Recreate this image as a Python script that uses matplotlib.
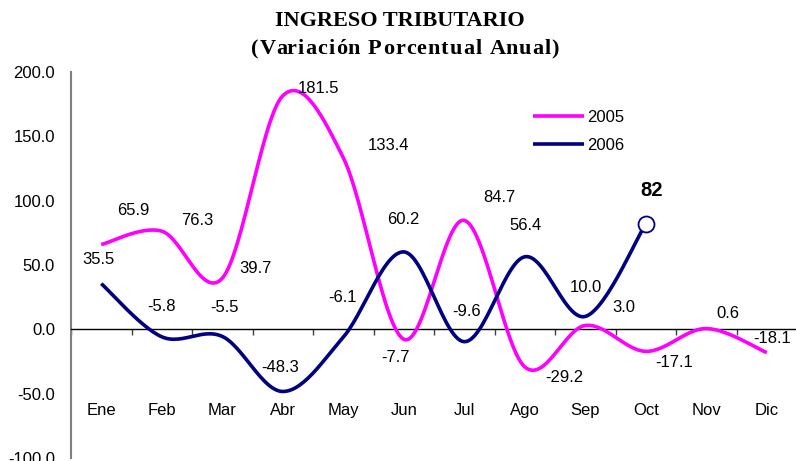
import numpy as np
import matplotlib
matplotlib.use("Agg")
import matplotlib.pyplot as plt
from matplotlib.font_manager import FontProperties

months = ["Ene", "Feb", "Mar", "Abr", "May", "Jun", "Jul", "Ago", "Sep", "Oct", "Nov", "Dic"]
s2005 = [65.9, 76.3, 39.7, 181.5, 133.4, -7.7, 84.7, -29.2, 3.0, -17.1, 0.6, -18.1]
s2006 = [35.5, -5.8, -5.5, -48.3, -6.1, 60.2, -9.6, 56.4, 10.0, 82.0]
lab2005 = ["65.9", "76.3", "39.7", "181.5", "133.4", "-7.7", "84.7", "-29.2", "3.0", "-17.1", "0.6", "-18.1"]
lab2006 = ["35.5", "-5.8", "-5.5", "-48.3", "-6.1", "60.2", "-9.6", "56.4", "10.0"]
last_label = "82"
yticks = [-100, -50, 0, 50, 100, 150, 200]
title1 = "INGRESO TRIBUTARIO"
title2 = "(Variación Porcentual Anual)"

# label offsets in pixels (style)
off2005 = [(32, 34), (35, 11), (33, 10), (36, 7), (45, 12), (-8, -18), (35, 23),
           (40, -11), (39, 18), (28, -11), (22, 15), (5, 14)]
off2006 = [(-3, 24), (0, 30), (2, 29), (-3, 24), (-1, 40), (0, 32), (2, 30), (1, 31), (1, 29)]

MAG = "#FF00FF"
NAVY = "#000080"
SANS = "Liberation Sans"
SERIF = "Liberation Serif"


def smooth(y, n=30):
    y = np.asarray(y, float)
    x = np.arange(len(y), dtype=float)
    px, py = [], []
    for i in range(len(y) - 1):
        i0 = max(i - 1, 0)
        i3 = min(i + 2, len(y) - 1)
        p0 = np.array([x[i0], y[i0]]); p1 = np.array([x[i], y[i]])
        p2 = np.array([x[i + 1], y[i + 1]]); p3 = np.array([x[i3], y[i3]])
        c1 = p1 + (p2 - p0) / 6.0
        c2 = p2 - (p3 - p1) / 6.0
        t = np.linspace(0, 1, n)[:, None]
        b = (1 - t) ** 3 * p1 + 3 * (1 - t) ** 2 * t * c1 + 3 * (1 - t) * t ** 2 * c2 + t ** 3 * p2
        px.extend(b[:, 0]); py.extend(b[:, 1])
    return np.array(px), np.array(py)


W, H = 796, 461
fig = plt.figure(figsize=(W / 100, H / 100), dpi=100)
ax = fig.add_axes([71 / W, 3 / H, 726 / W, 386 / H])
ax.set_xlim(-0.5, 11.5)
ax.set_ylim(-100, 200)

x5, y5 = smooth(s2005)
x6, y6 = smooth(s2006)
ax.plot(x5, y5, color=MAG, lw=2.6, label="2005", solid_capstyle="butt", zorder=3)
ax.plot(x6, y6, color=NAVY, lw=2.6, label="2006", solid_capstyle="butt", zorder=3)
ax.plot([len(s2006) - 1], [s2006[-1]], marker="o", ms=11.5, mfc="white", mec=NAVY,
        mew=1.3, ls="none", zorder=4)

for i, (v, t) in enumerate(zip(s2005, lab2005)):
    ax.annotate(t, (i, v), xytext=off2005[i], textcoords="offset pixels",
                ha="center", va="center", fontsize=12, family=SANS, color="black")
for i, t in enumerate(lab2006):
    ax.annotate(t, (i, s2006[i]), xytext=off2006[i], textcoords="offset pixels",
                ha="center", va="center", fontsize=12, family=SANS, color="black")
ax.annotate(last_label, (len(s2006) - 1, s2006[-1]), xytext=(6, 33), textcoords="offset pixels",
            ha="center", va="center", fontsize=14.5, fontweight="bold", family=SANS)

# axes styling
for s in ["top", "right"]:
    ax.spines[s].set_visible(False)
ax.spines["left"].set_color("#808080")
ax.spines["left"].set_linewidth(1.5)
ax.spines["bottom"].set_position(("data", 0))
ax.spines["bottom"].set_color("black")
ax.spines["bottom"].set_linewidth(1.0)

ax.set_yticks(yticks)
ax.set_yticklabels([f"{v:.1f}" for v in yticks], family=SANS, fontsize=12)
ax.tick_params(axis="y", length=0, pad=11.5)

ax.set_xticks(np.arange(-0.5, 12, 1))
ax.set_xticklabels([])
ax.tick_params(axis="x", length=4, width=1, color="#404040", direction="out")
for i, m in enumerate(months):
    ax.annotate(m, (i, 0), xytext=(0, -81), textcoords="offset pixels",
                ha="center", va="center", fontsize=12, family=SANS)

leg = ax.legend(loc="upper left", bbox_to_anchor=(533 / W, 1 - 110 / H),
                bbox_transform=fig.transFigure, frameon=False, borderpad=0,
                borderaxespad=0, handlelength=3.05, handletextpad=0.2,
                labelspacing=0.8, prop={"family": SANS, "size": 12})

fig.text(400 / W, 1 - 21 / H, title1, ha="center", va="center",
         fontsize=16, fontweight="bold", family=SERIF)

# second title line with letter spacing
fp = FontProperties(family=SERIF, weight="bold", size=16)
renderer = fig.canvas.get_renderer()


def text_w(s):
    w, _, _ = renderer.get_text_width_height_descent(s + "x", fp, ismath=False)
    wx, _, _ = renderer.get_text_width_height_descent("x", fp, ismath=False)
    return w - wx


track = 1.1  # extra px between characters
total = text_w(title2) + track * (len(title2) - 1)
x0 = 405 - total / 2
for k, ch in enumerate(title2):
    xk = x0 + text_w(title2[:k]) + track * k
    fig.text(xk / W, 1 - 49 / H, ch, ha="left", va="center_baseline" if False else "center",
             fontproperties=fp)

fig.savefig("out.png", dpi=100)
